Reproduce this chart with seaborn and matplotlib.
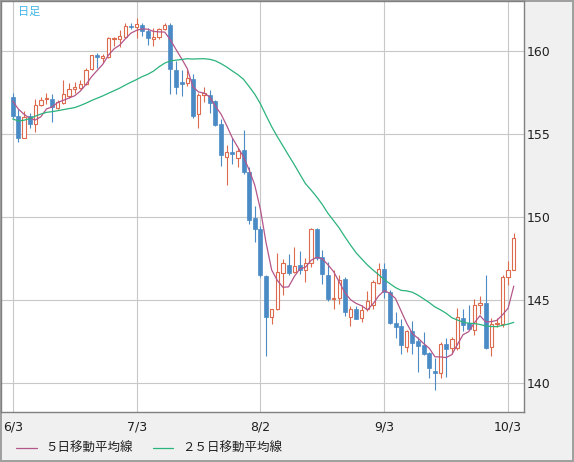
import numpy as np
import pandas as pd
import matplotlib
matplotlib.use("Agg")
import matplotlib.pyplot as plt
from matplotlib.lines import Line2D
import seaborn as sns

# 日足 USD/JPY 2024/6/3 - 10/4
dates = ["6/3", "6/4", "6/5", "6/6", "6/7", "6/10", "6/11", "6/12", "6/13", "6/14",
         "6/17", "6/18", "6/19", "6/20", "6/21", "6/24", "6/25", "6/26", "6/27", "6/28",
         "7/1", "7/2", "7/3", "7/4", "7/5", "7/8", "7/9", "7/10", "7/11", "7/12",
         "7/15", "7/16", "7/17", "7/18", "7/19", "7/22", "7/23", "7/24", "7/25", "7/26",
         "7/29", "7/30", "7/31", "8/1", "8/2", "8/5", "8/6", "8/7", "8/8", "8/9",
         "8/12", "8/13", "8/14", "8/15", "8/16", "8/19", "8/20", "8/21", "8/22", "8/23",
         "8/26", "8/27", "8/28", "8/29", "8/30", "9/2", "9/3", "9/4", "9/5", "9/6",
         "9/9", "9/10", "9/11", "9/12", "9/13", "9/16", "9/17", "9/18", "9/19", "9/20",
         "9/23", "9/24", "9/25", "9/26", "9/27", "9/30", "10/1", "10/2", "10/3", "10/4"]

open_ = [157.25, 156.10, 154.80, 156.10, 155.60, 156.75, 157.10, 157.15, 156.60, 156.90,
         157.30, 157.75, 157.80, 158.05, 158.93, 159.75, 159.62, 159.67, 160.75, 160.77,
         160.85, 161.55, 161.45, 161.60, 161.25, 160.75, 160.84, 161.32, 161.60, 158.90,
         158.15, 158.07, 158.35, 156.20, 157.37, 157.35, 157.00, 155.60, 153.65, 153.92,
         153.60, 154.05, 152.70, 149.95, 149.30, 146.45, 144.02, 144.46, 146.65, 147.15,
         146.72, 147.10, 146.85, 147.23, 149.30, 147.60, 146.55, 145.08, 145.15, 146.30,
         144.00, 144.50, 143.94, 144.48, 144.70, 146.05, 146.90, 145.50, 143.64, 143.45,
         142.17, 143.17, 142.53, 142.30, 141.83, 140.76, 140.60, 142.37, 142.10, 142.10,
         143.92, 143.63, 143.20, 144.70, 144.84, 142.20, 143.57, 143.57, 146.39, 146.85]
high = [157.50, 156.52, 156.40, 156.30, 157.10, 157.22, 157.47, 157.40, 157.07, 158.27,
        158.07, 158.15, 158.25, 159.00, 159.80, 159.92, 159.84, 160.87, 160.87, 161.28,
        161.70, 161.72, 162.00, 161.70, 161.40, 161.40, 161.40, 161.70, 161.72, 159.43,
        158.90, 158.87, 158.65, 157.47, 157.87, 157.67, 157.05, 155.90, 154.36, 154.76,
        154.16, 155.25, 153.00, 150.70, 149.50, 146.50, 144.50, 147.83, 147.50, 147.77,
        148.20, 147.95, 147.55, 149.38, 149.35, 148.00, 147.30, 146.85, 146.55, 146.40,
        144.64, 144.64, 144.74, 145.58, 146.24, 147.24, 147.24, 145.60, 144.32, 143.88,
        143.20, 143.78, 142.77, 143.10, 141.87, 141.53, 142.51, 142.71, 142.81, 144.55,
        144.48, 144.74, 145.08, 145.28, 146.55, 143.95, 143.95, 146.50, 147.35, 149.04]
low = [156.00, 154.55, 154.75, 155.40, 155.15, 156.70, 156.80, 155.72, 156.50, 156.80,
       157.20, 157.47, 157.70, 157.95, 158.90, 159.00, 159.31, 159.60, 160.30, 160.28,
       160.80, 161.34, 160.80, 160.90, 160.35, 160.30, 160.75, 161.30, 157.40, 157.40,
       157.30, 157.90, 156.00, 155.35, 156.97, 156.30, 155.50, 153.10, 151.95, 153.20,
       153.00, 152.60, 149.60, 148.50, 146.40, 141.65, 143.60, 144.40, 145.30, 146.50,
       146.65, 146.60, 146.10, 147.00, 147.40, 146.00, 144.95, 144.45, 144.80, 144.08,
       143.45, 143.85, 143.68, 144.38, 144.50, 145.95, 145.14, 143.55, 142.75, 141.77,
       141.90, 141.77, 140.70, 141.70, 140.30, 139.58, 140.30, 140.40, 141.77, 142.00,
       143.17, 143.20, 142.93, 144.18, 142.07, 141.65, 143.37, 143.40, 145.92, 146.80]
close = [156.10, 154.80, 156.05, 155.60, 156.75, 157.07, 157.17, 156.65, 156.95, 157.40,
         157.75, 157.85, 158.05, 158.90, 159.78, 159.64, 159.72, 160.80, 160.80, 160.90,
         161.52, 161.45, 161.65, 161.25, 160.78, 160.85, 161.32, 161.58, 158.95, 157.87,
         158.05, 158.37, 156.10, 157.37, 157.50, 156.90, 155.56, 153.77, 153.92, 153.80,
         154.00, 152.70, 149.85, 149.30, 146.50, 144.00, 144.46, 146.72, 147.23, 146.63,
         147.07, 146.80, 147.23, 149.30, 147.55, 146.57, 145.05, 145.15, 146.22, 144.30,
         144.48, 143.90, 144.44, 144.98, 146.12, 146.88, 145.48, 143.65, 143.38, 142.33,
         143.17, 142.41, 142.27, 141.77, 140.92, 140.60, 142.37, 142.07, 142.67, 144.00,
         143.53, 143.27, 144.72, 144.84, 142.13, 143.60, 143.65, 146.39, 146.85, 148.75]

# closes before 6/3 (4/30 - 5/31), only used to start the moving averages
prior_close = [157.8, 155.0, 153.2, 153.0, 153.9, 154.6, 155.6, 155.5, 155.8, 156.2,
               156.4, 154.9, 155.4, 155.7, 156.2, 156.2, 156.8, 157.0, 157.0, 156.9,
               157.2, 157.6, 156.8, 157.3]

xticks_at = ["6/3", "7/3", "8/2", "9/3", "10/3"]
yticks = [140, 145, 150, 155, 160]

up_col = "#dc6a4c"
down_col = "#4b8bc5"
ma5_col = "#b4568a"
ma25_col = "#2bb37c"

df = pd.DataFrame({"date": dates, "open": open_, "high": high, "low": low, "close": close})
df["i"] = np.arange(len(df))
allc = pd.Series(prior_close + close)
n0 = len(prior_close)
df["ma5"] = allc.rolling(5).mean().iloc[n0:].values
df["ma25"] = allc.rolling(25).mean().iloc[n0:].values

sns.set_style("white")
plt.rcParams["font.family"] = ["DejaVu Sans", "Noto Sans CJK JP"]

W, H = 574, 462
fig = plt.figure(figsize=(W / 100, H / 100), dpi=100)
fig.patch.set_facecolor("#f0f0f0")
ax = fig.add_axes([1 / W, 1 - 412.3 / H, 522.5 / W, 411.3 / H])
ax.set_facecolor("white")

up = df[df["close"] >= df["open"]]
dn = df[df["close"] < df["open"]]

ax.vlines(dn["i"], dn["low"], dn["high"], color=down_col, linewidth=0.8, zorder=2)
ax.vlines(up["i"], up["low"], up["high"], color=up_col, linewidth=0.8, zorder=2)
ax.bar(dn["i"], dn["open"] - dn["close"], bottom=dn["close"], width=0.7,
       color=down_col, edgecolor=down_col, linewidth=0.5, zorder=3)
ax.bar(up["i"], (up["close"] - up["open"]).clip(lower=0.03), bottom=up["open"], width=0.6,
       facecolor="white", edgecolor=up_col, linewidth=0.8, zorder=3)

sns.lineplot(data=df, x="i", y="ma5", color=ma5_col, linewidth=0.9, ax=ax, zorder=4)
sns.lineplot(data=df, x="i", y="ma25", color=ma25_col, linewidth=0.9, ax=ax, zorder=4)

ax.set_xlim(-2.08, 90.73)
ax.set_ylim(138.25, 163.03)
xt = [dates.index(d) for d in xticks_at]
ax.set_xticks(xt)
ax.set_xticklabels(xticks_at)
ax.set_yticks(yticks)
ax.yaxis.tick_right()
ax.tick_params(axis="both", length=0, labelsize=9, colors="#202020")
ax.tick_params(axis="x", pad=6)
ax.tick_params(axis="y", pad=2.5)
ax.grid(True, color="#c8c8c8", linewidth=0.8)
ax.set_axisbelow(True)
ax.set_xlabel("")
ax.set_ylabel("")
for s in ax.spines.values():
    s.set_visible(True)
    s.set_color("#808080")
    s.set_linewidth(1.0)

ax.text(16.5 / 522.5, 1 - 11 / 411.3, "日足", transform=ax.transAxes,
        family=["Noto Sans CJK JP", "DejaVu Sans"], fontsize=8, color="#3db5e8",
        va="center", ha="left")

# legend along the bottom
ly = 1 - 448.3 / H
for x0, x1, col, tx, lab in [(16, 36.7, ma5_col, 45, "５日移動平均線"),
                             (153, 173, ma25_col, 182, "２５日移動平均線")]:
    fig.add_artist(Line2D([x0 / W, x1 / W], [ly, ly], color=col, linewidth=0.9))
    fig.text(tx / W, ly, lab, family=["Noto Sans CJK JP", "DejaVu Sans"], fontsize=9,
             color="#202020", va="center", ha="left")

fig.patch.set_edgecolor("#a0a0a0")
fig.patch.set_linewidth(1.5)

fig.savefig("out.png", dpi=100, facecolor=fig.get_facecolor(), edgecolor=fig.patch.get_edgecolor())
